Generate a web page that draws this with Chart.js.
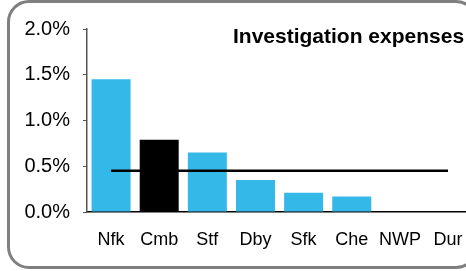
<!DOCTYPE html>
<html>
<head>
<meta charset="utf-8">
<script src="https://cdn.jsdelivr.net/npm/chart.js@4"></script>
<style>
  html, body { margin: 0; padding: 0; background: #fff; overflow: hidden; }
  #wrap { position: relative; width: 466px; height: 271px; overflow: hidden; }
  #frame {
    position: absolute; left: 7px; top: 0; width: 465px; height: 263px;
    border: 3px solid #7f7f7f; border-radius: 22px; box-sizing: content-box;
  }
  #chart-box { position: absolute; left: 0; top: 0; width: 480px; height: 271px; }
</style>
</head>
<body>
<div id="wrap">
  <div id="frame"></div>
  <div id="chart-box"><canvas id="chart" width="480" height="271"></canvas></div>
</div>
<script>
  const categories = ['Nfk', 'Cmb', 'Stf', 'Dby', 'Sfk', 'Che', 'NWP', 'Dur'];
  const expenses = [1.45, 0.79, 0.65, 0.35, 0.21, 0.17, 0, 0];
  const average = [0.45, 0.45, 0.45, 0.45, 0.45, 0.45, 0.45, 0.45];
  const yTicks = [0, 0.5, 1.0, 1.5, 2.0];
  const highlight = 'Cmb';

  // Title drawn inside the plot area
  const titlePlugin = {
    id: 'insideTitle',
    afterDraw(chart) {
      const c = chart.ctx;
      c.save();
      c.font = 'bold 21px "Liberation Sans", Arial, sans-serif';
      c.fillStyle = '#000';
      c.textBaseline = 'alphabetic';
      c.textAlign = 'left';
      c.fillText('Investigation expenses', 233, 43);
      c.restore();
    }
  };

  const ctx = document.getElementById('chart').getContext('2d');
  new Chart(ctx, {
    data: {
      labels: categories,
      datasets: [
        {
          type: 'line',
          label: 'Average',
          data: average,
          borderColor: '#000',
          borderWidth: 2.5,
          pointRadius: 0,
          order: 0
        },
        {
          type: 'bar',
          label: 'Investigation expenses',
          data: expenses,
          backgroundColor: categories.map(c => c === highlight ? '#000000' : '#33b8e8'),
          categoryPercentage: 1,
          barPercentage: 0.81,
          order: 1
        }
      ]
    },
    options: {
      responsive: false,
      animation: false,
      layout: { padding: { left: 0, top: 29, right: 7.5, bottom: 0 } },
      plugins: { legend: { display: false }, tooltip: { enabled: false } },
      scales: {
        x: {
          offset: true,
          grid: { display: false, drawTicks: false },
          border: { color: '#000', width: 1.5 },
          ticks: {
            color: '#000',
            padding: 17,
            font: { family: '"Liberation Sans", Arial, sans-serif', size: 18 }
          },
          afterFit: s => { s.height = 59; }
        },
        y: {
          min: 0,
          max: 2,
          afterBuildTicks: s => { s.ticks = yTicks.map(v => ({ value: v })); },
          grid: { drawOnChartArea: false, tickLength: 4, color: '#555' },
          border: { color: '#555', width: 1.5 },
          ticks: {
            color: '#000',
            padding: 13,
            font: { family: '"Liberation Sans", Arial, sans-serif', size: 20 },
            callback: v => v.toFixed(1) + '%'
          },
          afterFit: s => { s.width = 87; }
        }
      }
    },
    plugins: [titlePlugin]
  });
</script>
</body>
</html>
